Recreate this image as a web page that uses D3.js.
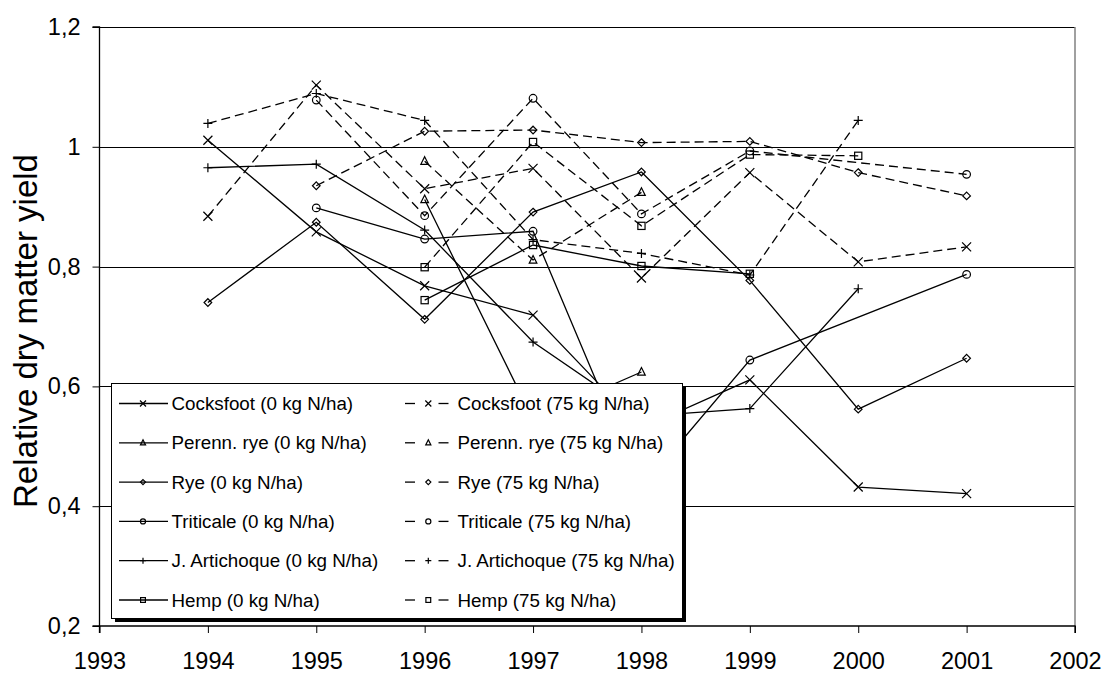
<!DOCTYPE html>
<html>
<head>
<meta charset="utf-8">
<script src="https://cdn.jsdelivr.net/npm/d3@7"></script>
<style>
  html, body { margin: 0; padding: 0; background: #fff; }
  svg { display: block; font-family: "Liberation Sans", Arial, sans-serif; }
</style>
</head>
<body>
<svg id="chart" width="1104" height="673"></svg>
<script>
// ---------- DATA ----------
const years = [1994, 1995, 1996, 1997, 1998, 1999, 2000, 2001];

const cocksfoot0   = [1.011, 0.858, 0.768, 0.719, 0.530, 0.611, 0.432, 0.421];
const cocksfoot75  = [0.884, 1.103, 0.930, 0.964, 0.781, 0.957, 0.808, 0.833];
const perenn0      = [null,  null,  0.912, 0.545, 0.624, null,  null,  null ];
const perenn75     = [null,  null,  0.976, 0.811, 0.924, null,  null,  null ];
const rye0         = [0.740, 0.874, 0.712, 0.891, 0.958, 0.777, 0.562, 0.647];
const rye75        = [null,  0.935, 1.026, 1.028, 1.007, 1.009, 0.957, 0.918];
const triticale0   = [null,  0.898, 0.846, 0.859, 0.430, 0.644, null,  0.787];
const triticale75  = [null,  1.078, 0.885, 1.081, 0.888, 0.993, null,  0.954];
const artichoke0   = [0.965, 0.971, 0.861, 0.674, 0.550, 0.563, 0.763, null ];
const artichoke75  = [1.039, 1.089, 1.044, 0.845, 0.822, 0.786, 1.044, null ];
const hemp0        = [null,  null,  0.744, 0.836, 0.801, 0.788, null,  null ];
const hemp75       = [null,  null,  0.799, 1.008, 0.868, 0.987, 0.985, null ];

const seriesNames0  = ["Cocksfoot (0 kg N/ha)", "Perenn. rye (0 kg N/ha)", "Rye (0 kg N/ha)",
                       "Triticale (0 kg N/ha)", "J. Artichoque (0 kg N/ha)", "Hemp (0 kg N/ha)"];
const seriesNames75 = ["Cocksfoot (75 kg N/ha)", "Perenn. rye (75 kg N/ha)", "Rye (75 kg N/ha)",
                       "Triticale (75 kg N/ha)", "J. Artichoque (75 kg N/ha)", "Hemp (75 kg N/ha)"];
const markerTypes   = ["x", "triangle", "diamond", "circle", "plus", "square"];

const yTicks = [0.2, 0.4, 0.6, 0.8, 1.0, 1.2];
const xTicks = [1993, 1994, 1995, 1996, 1997, 1998, 1999, 2000, 2001, 2002];
const yTitle = "Relative dry matter yield";

const values0  = [cocksfoot0, perenn0, rye0, triticale0, artichoke0, hemp0];
const values75 = [cocksfoot75, perenn75, rye75, triticale75, artichoke75, hemp75];

// ---------- LAYOUT ----------
const svg = d3.select("#chart");
const pLeft = 99.5, pRight = 1075, pTop = 27, pBottom = 626;

const x = d3.scaleLinear().domain([1993, 2002]).range([pLeft, pRight]);
const y = d3.scaleLinear().domain([0.2, 1.2]).range([pBottom, pTop]);

// gridlines
svg.append("g").selectAll("line")
  .data(yTicks.filter(d => d > 0.2))
  .join("line")
  .attr("x1", pLeft).attr("x2", pRight)
  .attr("y1", d => Math.round(y(d)) + 0.5).attr("y2", d => Math.round(y(d)) + 0.5)
  .attr("stroke", "#000").attr("stroke-width", 1);

// right plot border (gray)
svg.append("line")
  .attr("x1", pRight).attr("x2", pRight).attr("y1", pTop).attr("y2", pBottom)
  .attr("stroke", "#808080").attr("stroke-width", 1.5);

const fmt = d => (Math.abs(d - 1) < 1e-9) ? "1" : d3.format(".1f")(d).replace(".", ",");

// axes
const yAxis = d3.axisLeft(y).tickValues(yTicks).tickSize(7).tickPadding(12).tickFormat(fmt);
const gy = svg.append("g").attr("transform", `translate(${pLeft},0)`).call(yAxis);
const xAxis = d3.axisBottom(x).tickValues(xTicks).tickSize(7).tickPadding(19).tickFormat(d3.format("d"));
const gx = svg.append("g").attr("transform", `translate(0,${pBottom})`).call(xAxis);

[gx, gy].forEach(g => {
  g.select(".domain").attr("stroke", "#000").attr("stroke-width", 1.3);
  g.selectAll(".tick line").attr("stroke", "#000").attr("stroke-width", 1);
  g.selectAll(".tick text").attr("fill", "#000")
    .style("font-family", "'Liberation Sans', Arial, sans-serif").style("font-size", "23.5px");
});
gx.select(".domain").attr("d", `M${pLeft},7V0H${pRight}V7`);
gy.select(".domain").attr("d", `M-7,${pTop}H0V${pBottom}H-7`);

// y title
svg.append("text")
  .attr("transform", `translate(37,331) rotate(-90)`)
  .attr("text-anchor", "middle")
  .style("font-size", "33px")
  .attr("fill", "#000")
  .text(yTitle);

// ---------- MARKERS ----------
function drawMarker(g, type, cx, cy, s) {
  const stroke = "#000", sw = 1.2;
  if (type === "x") {
    g.append("path").attr("d", `M${cx - s},${cy - s}L${cx + s},${cy + s}M${cx - s},${cy + s}L${cx + s},${cy - s}`)
      .attr("stroke", stroke).attr("stroke-width", sw).attr("fill", "none");
  } else if (type === "plus") {
    g.append("path").attr("d", `M${cx - s},${cy}L${cx + s},${cy}M${cx},${cy - s}L${cx},${cy + s}`)
      .attr("stroke", stroke).attr("stroke-width", sw).attr("fill", "none");
  } else if (type === "circle") {
    g.append("circle").attr("cx", cx).attr("cy", cy).attr("r", s * 0.85)
      .attr("stroke", stroke).attr("stroke-width", sw).attr("fill", "none");
  } else if (type === "square") {
    const h = s * 0.8;
    g.append("rect").attr("x", cx - h).attr("y", cy - h).attr("width", 2 * h).attr("height", 2 * h)
      .attr("stroke", stroke).attr("stroke-width", sw).attr("fill", "none");
  } else if (type === "diamond") {
    const h = s * 0.85;
    g.append("path").attr("d", `M${cx},${cy - h}L${cx + h},${cy}L${cx},${cy + h}L${cx - h},${cy}Z`)
      .attr("stroke", stroke).attr("stroke-width", sw).attr("fill", "none");
  } else if (type === "triangle") {
    const h = s;
    g.append("path").attr("d", `M${cx},${cy - h}L${cx + h * 0.85},${cy + h * 0.7}L${cx - h * 0.85},${cy + h * 0.7}Z`)
      .attr("stroke", stroke).attr("stroke-width", sw).attr("fill", "none");
  }
}

// ---------- SERIES ----------
const line = d3.line().x(d => x(d.year)).y(d => y(d.value));
const plot = svg.append("g");

function drawSeries(vals, type, dashed) {
  const pts = years.map((yr, i) => ({ year: yr, value: vals[i] })).filter(d => d.value !== null);
  plot.append("path").datum(pts)
    .attr("d", line)
    .attr("fill", "none")
    .attr("stroke", "#000")
    .attr("stroke-width", 1.3)
    .attr("stroke-dasharray", dashed ? "9,5" : null);
  const mg = plot.append("g");
  pts.forEach(p => drawMarker(mg, type, x(p.year), y(p.value), 4.5));
}

values0.forEach((v, i) => drawSeries(v, markerTypes[i], false));
values75.forEach((v, i) => drawSeries(v, markerTypes[i], true));

// ---------- LEGEND ----------
const lg = svg.append("g");
const lx = 111, ly = 383, lw = 571, lh = 235;
lg.append("rect").attr("x", lx + 4).attr("y", ly + 4).attr("width", lw).attr("height", lh).attr("fill", "#000");
lg.append("rect").attr("x", lx + 0.5).attr("y", ly + 0.5).attr("width", lw).attr("height", lh)
  .attr("fill", "#fff").attr("stroke", "#000").attr("stroke-width", 1);

const rowY = i => 403.5 + i * 39.3;
seriesNames0.forEach((name, i) => {
  const yy = rowY(i);
  lg.append("line").attr("x1", 119).attr("x2", 168).attr("y1", yy).attr("y2", yy)
    .attr("stroke", "#000").attr("stroke-width", 1.3);
  drawMarker(lg, markerTypes[i], 143, yy, 3);
  lg.append("text").attr("x", 171.5).attr("y", yy).attr("dy", "0.35em")
    .style("font-size", "18.8px").attr("fill", "#000").text(name);
});
seriesNames75.forEach((name, i) => {
  const yy = rowY(i);
  lg.append("line").attr("x1", 405).attr("x2", 415).attr("y1", yy).attr("y2", yy)
    .attr("stroke", "#000").attr("stroke-width", 1.3);
  lg.append("line").attr("x1", 438.5).attr("x2", 448.5).attr("y1", yy).attr("y2", yy)
    .attr("stroke", "#000").attr("stroke-width", 1.3);
  drawMarker(lg, markerTypes[i], 428.3, yy, 3);
  lg.append("text").attr("x", 457.5).attr("y", yy).attr("dy", "0.35em")
    .style("font-size", "18.8px").attr("fill", "#000").text(name);
});
</script>
</body>
</html>
